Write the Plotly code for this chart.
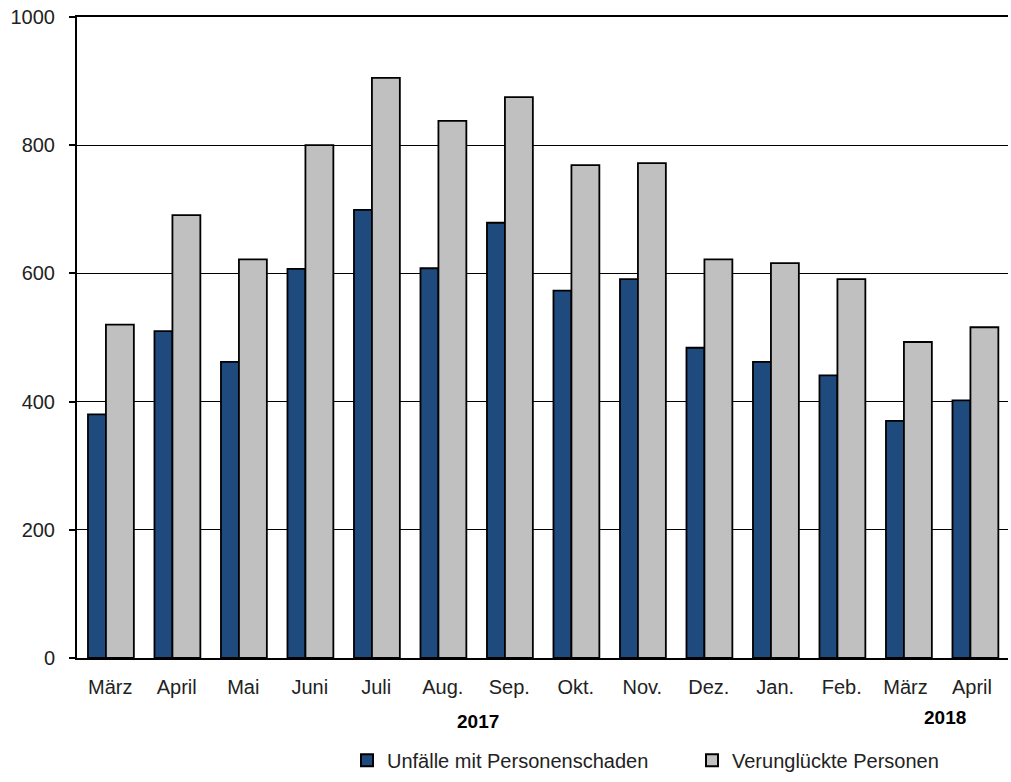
import plotly.graph_objects as go

months = ["März", "April", "Mai", "Juni", "Juli", "Aug.", "Sep.", "Okt.", "Nov.",
          "Dez.", "Jan.", "Feb.", "März ", "April "]
unfaelle = [380, 510, 462, 607, 699, 608, 679, 573, 591, 484, 462, 441, 370, 402]
verunglueckte = [520, 691, 622, 800, 905, 838, 875, 769, 772, 622, 616, 591, 493, 516]
year_labels = ["2017", "2018"]
y_ticks = [0, 200, 400, 600, 800, 1000]

font_family = "Liberation Sans, Arial, sans-serif"

fig = go.Figure()
fig.add_trace(go.Bar(
    x=months, y=unfaelle, name="Unfälle mit Personenschaden",
    marker=dict(color="#1f4a7e", line=dict(color="black", width=1.8)),
    width=0.27, offset=-0.335,
))
fig.add_trace(go.Bar(
    x=months, y=verunglueckte, name="Verunglückte Personen",
    marker=dict(color="#c0c0c0", line=dict(color="black", width=1.8)),
    width=0.42, offset=-0.065,
))

fig.update_layout(
    width=1011, height=782,
    margin=dict(l=77, r=3, t=17, b=124, autoexpand=False),
    paper_bgcolor="white", plot_bgcolor="white",
    font=dict(family=font_family, size=18, color="#222222"),
    barmode="overlay",
    showlegend=True,
    legend=dict(orientation="h", x=0.29, xanchor="left", y=-0.19, yanchor="bottom",
                font=dict(size=20), entrywidth=300, itemsizing="constant",
                traceorder="normal"),
    xaxis=dict(
        type="category", range=[-0.5, 13.5], showgrid=False, automargin=False,
        showline=True, linecolor="black", linewidth=2, mirror=True,
        ticks="", ticklabelstandoff=10,
        tickfont=dict(size=20, color="#222222"),
    ),
    yaxis=dict(
        range=[0, 1000], tickvals=y_ticks, showgrid=True, gridcolor="black", gridwidth=1,
        showline=True, linecolor="black", linewidth=2, zeroline=False, automargin=False,
        ticks="outside", ticklen=6, tickcolor="black", tickwidth=1.5,
        ticklabelstandoff=10,
        tickfont=dict(size=20, color="#222222"),
    ),
)

fig.add_annotation(text="<b>" + year_labels[0] + "</b>", xref="paper", yref="paper",
                   x=0.431, y=-0.0998, xanchor="center", yanchor="middle", showarrow=False,
                   font=dict(size=19, color="black"))
fig.add_annotation(text="<b>" + year_labels[1] + "</b>", xref="paper", yref="paper",
                   x=0.932, y=-0.0936, xanchor="center", yanchor="middle", showarrow=False,
                   font=dict(size=19, color="black"))

fig.write_html("out.html", config={"displayModeBar": False},
               post_script="document.body.style.margin='0';document.body.style.overflow='hidden';")
